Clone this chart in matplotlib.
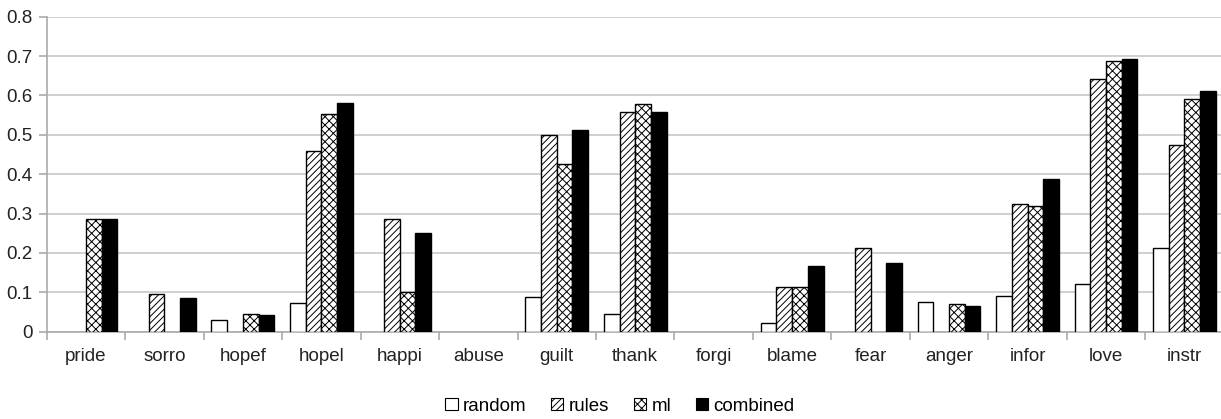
import matplotlib
matplotlib.use("Agg")
import matplotlib.pyplot as plt
import numpy as np
from matplotlib.patches import Patch

categories = ["pride", "sorro", "hopef", "hopel", "happi", "abuse", "guilt", "thank",
              "forgi", "blame", "fear", "anger", "infor", "love", "instr"]
random_vals = [0, 0, 0.029, 0.073, 0, 0, 0.087, 0.044, 0, 0.022, 0, 0.076, 0.090, 0.121, 0.212]
rules_vals = [0, 0.096, 0, 0.460, 0.286, 0, 0.499, 0.557, 0, 0.114, 0.212, 0, 0.325, 0.643, 0.473]
ml_vals = [0.286, 0, 0.045, 0.554, 0.100, 0, 0.427, 0.578, 0, 0.113, 0, 0.070, 0.318, 0.687, 0.592]
combined_vals = [0.285, 0.086, 0.042, 0.580, 0.250, 0, 0.512, 0.557, 0, 0.167, 0.174, 0.065, 0.389, 0.693, 0.611]
series_names = ["random", "rules", "ml", "combined"]
yticks = [0, 0.1, 0.2, 0.3, 0.4, 0.5, 0.6, 0.7, 0.8]
ytick_labels = ["0", "0.1", "0.2", "0.3", "0.4", "0.5", "0.6", "0.7", "0.8"]

plt.rcParams['font.family'] = ['Liberation Sans', 'DejaVu Sans']
plt.rcParams['hatch.linewidth'] = 0.7
FS = 13.5

fig = plt.figure(figsize=(12.21, 4.19), dpi=100)
ax = fig.add_axes([46.7 / 1221, 1 - 331.7 / 419, 1177 / 1221, (331.7 - 16.7) / 419])

x = np.arange(len(categories))
w = 0.2
styles = [
    dict(facecolor="white", edgecolor="black", hatch=None),
    dict(facecolor="white", edgecolor="black", hatch="/////"),
    dict(facecolor="white", edgecolor="black", hatch="xxxx"),
    dict(facecolor="black", edgecolor="black", hatch=None),
]
data = [random_vals, rules_vals, ml_vals, combined_vals]
for i, (vals, st) in enumerate(zip(data, styles)):
    v = np.asarray(vals, dtype=float)
    keep = v > 0
    ax.bar(x[keep] + (i - 1.5) * w, v[keep], width=w, linewidth=1.0, zorder=3, **st)

ax.set_xlim(-0.5, len(categories) - 0.5)
ax.set_ylim(0, 0.8)
ax.set_yticks(yticks)
ax.set_yticklabels(ytick_labels)
ax.yaxis.grid(True, color="#c8c8c8", linewidth=1.2, zorder=0)
ax.set_axisbelow(True)

ax.set_xticks(x)
ax.set_xticklabels(categories)
ax.set_xticks(np.arange(-0.5, len(categories), 1), minor=True)
ax.tick_params(axis="x", which="major", length=0, pad=12, labelsize=FS, labelcolor="#222222")
ax.tick_params(axis="x", which="minor", length=6, color="#aaaaaa", width=1.2)
ax.tick_params(axis="y", length=6, color="#aaaaaa", width=1.2, labelsize=FS, labelcolor="#222222", pad=4)

for s in ["top", "right"]:
    ax.spines[s].set_visible(False)
for s in ["left", "bottom"]:
    ax.spines[s].set_color("#aaaaaa")
    ax.spines[s].set_linewidth(1.2)

handles = [Patch(linewidth=0.8, **st) for st in styles]
fig.legend(handles, series_names, loc="center", bbox_to_anchor=(620 / 1221, 1 - 406 / 419),
           ncol=4, frameon=False, fontsize=FS, handlelength=0.65, handleheight=0.65,
           handletextpad=0.3, columnspacing=1.3, borderaxespad=0)

fig.savefig("out.png", dpi=100)
